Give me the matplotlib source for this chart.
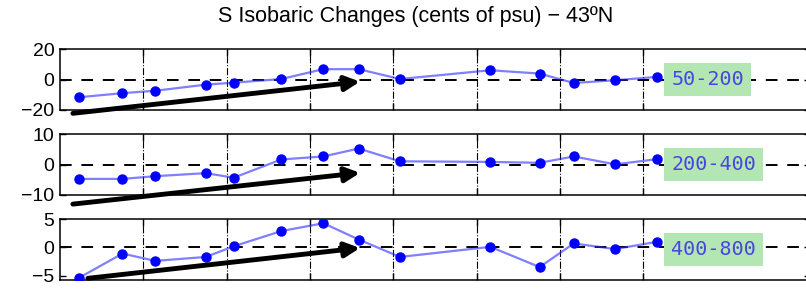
import numpy as np
import matplotlib
matplotlib.use("Agg")
import matplotlib.pyplot as plt

# sampling times (years) and salinity changes (cents of psu)
t = [1990.46, 1991.50, 1992.29, 1993.50, 1994.17, 1995.31, 1996.32,
     1997.17, 1998.16, 2000.33, 2001.51, 2002.33, 2003.32, 2004.33]
s_50_200 = [-11.6, -8.9, -7.3, -3.3, -2.0, 0.4, 6.9, 6.9, 0.4, 6.2, 4.0, -2.2, -0.4, 1.8]
s_200_400 = [-4.7, -4.7, -3.8, -2.8, -4.3, 1.7, 2.7, 5.3, 1.1, 0.9, 0.6, 2.7, 0.1, 1.8]
s_400_800 = [-5.4, -1.1, -2.4, -1.7, 0.2, 2.9, 4.3, 1.4, -1.7, 0.1, -3.5, 0.7, -0.3, 1.0]

layers = ["50-200", "200-400", "400-800"]
series = [s_50_200, s_200_400, s_400_800]
ylims = [(-20, 20), (-10, 10), (-5.8, 5)]
yticks = [[-20, 0, 20], [-10, 0, 10], [-5, 0, 5]]
xticks = [1992, 1994, 1996, 1998, 2000, 2002, 2004]

# trend arrows (tail, head) in data coords
arrows = [((1990.31, -22.2), (1997.2, -1.3)),
          ((1990.31, -13.0), (1997.2, -2.7)),
          ((1990.67, -5.5), (1997.2, -0.1))]

fig = plt.figure(figsize=(8.06, 2.92), dpi=100)
bottoms = [0.6233, 0.3322, 0.0411]
h = 0.2079

for i in range(3):
    ax = fig.add_axes([0.0744, bottoms[i], 0.9306, h])
    ax.set_xlim(1990, 2008)
    ax.set_ylim(*ylims[i])
    ax.set_xticks(xticks)
    ax.set_xticklabels([])
    ax.set_yticks(yticks[i])
    ax.tick_params(axis='both', direction='in', top=True, right=True,
                   length=4, width=1, labelsize=14, pad=4)
    ax.tick_params(axis='x', length=5)
    for lab in ax.get_yticklabels():
        lab.set_family(['Liberation Sans', 'DejaVu Sans'])
    ax.grid(axis='x', color='k', linestyle='-.', linewidth=0.8)
    for sp in ax.spines.values():
        sp.set_linewidth(1.1)
    ax.axhline(0, color='k', linestyle=(0, (6, 5)), linewidth=1.4, zorder=2)
    ax.plot(t, series[i], color='#2a2aff', linewidth=1.6, alpha=0.6, zorder=3)
    ax.plot(t, series[i], linestyle='none', marker='o', markersize=6.5,
            color='#0000ff', zorder=4)
    ax.text(0.815, 0.5, layers[i], transform=ax.transAxes, ha='left', va='center',
            family='DejaVu Sans Mono', fontsize=14.5, color='#4848e0', zorder=6,
            bbox=dict(boxstyle='square,pad=0.35', facecolor='#b4e6b4', edgecolor='none'))
    tail, head = arrows[i]
    ax.annotate('', xy=head, xytext=tail, annotation_clip=False,
                arrowprops=dict(arrowstyle='-|>', color='k', lw=3.5,
                                mutation_scale=22, shrinkA=0, shrinkB=0),
                zorder=5)

fig.text(0.516, 0.945, "S Isobaric Changes (cents of psu) \u2212 43\u00baN",
         ha='center', va='center', fontsize=15.5,
         family=['Liberation Sans', 'DejaVu Sans'])

fig.savefig("out.png", dpi=100)
